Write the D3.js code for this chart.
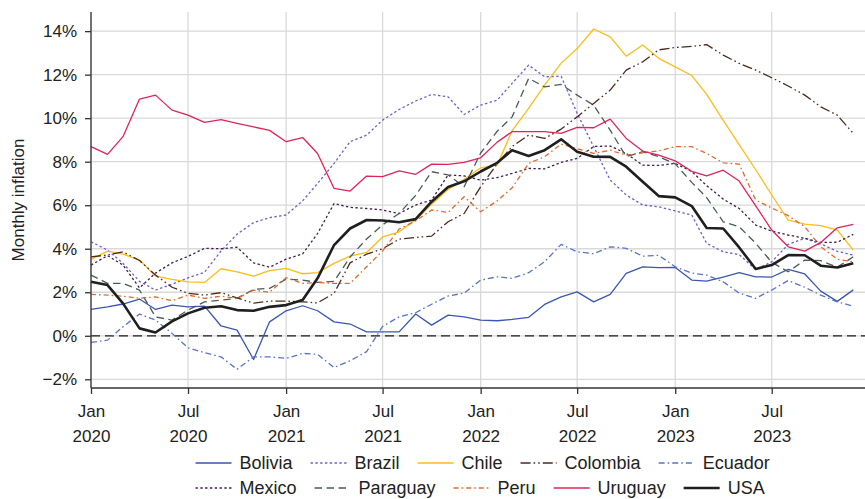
<!DOCTYPE html>
<html>
<head>
<meta charset="utf-8">
<script src="https://cdn.jsdelivr.net/npm/d3@7"></script>
<style>
  html, body { margin: 0; padding: 0; background: #fff; }
  svg { display: block; font-family: "Liberation Sans", Arial, Helvetica, sans-serif; }
</style>
</head>
<body>
<svg id="chart" width="865" height="499"></svg>
<script>
// Monthly observations, Jan 2020 – Dec 2023 (year-on-year inflation, %)
const startYear = 2020;
const nMonths = 48;

const countries = ["Bolivia", "Brazil", "Chile", "Colombia", "Ecuador",
                   "Mexico", "Paraguay", "Peru", "Uruguay", "USA"];

const bolivia = [1.21, 1.33, 1.46, 1.69, 1.21, 1.41, 1.33, 1.36, 0.45, 0.26, -1.09, 0.64,
                 1.15, 1.38, 1.15, 0.64, 0.54, 0.18, 0.18, 0.18, 1.00, 0.49, 0.95, 0.87,
                 0.72, 0.69, 0.75, 0.85, 1.44, 1.79, 2.02, 1.56, 1.90, 2.87, 3.17, 3.13,
                 3.14, 2.56, 2.51, 2.70, 2.90, 2.71, 2.70, 3.05, 2.84, 2.05, 1.58, 2.11];

const brazil = [4.32, 3.94, 3.33, 2.50, 2.10, 2.37, 2.66, 2.92, 3.90, 4.67, 5.20, 5.43,
                5.55, 6.20, 7.00, 7.92, 8.92, 9.22, 9.91, 10.40, 10.79, 11.09, 10.98, 10.17,
                10.60, 10.83, 11.60, 12.44, 11.90, 11.93, 10.22, 8.69, 7.16, 6.47, 6.01, 5.93,
                5.74, 5.55, 4.25, 3.86, 3.73, 3.04, 3.40, 4.20, 4.48, 4.22, 3.88, 3.71];

const chile = [3.51, 3.89, 3.75, 3.48, 2.74, 2.59, 2.48, 2.45, 3.08, 2.94, 2.74, 2.99,
               3.10, 2.85, 2.90, 3.33, 3.66, 3.83, 4.54, 4.78, 5.32, 6.04, 6.73, 7.19,
               7.72, 7.84, 9.43, 10.45, 11.52, 12.53, 13.20, 14.10, 13.74, 12.85, 13.36, 12.75,
               12.36, 11.96, 11.09, 9.90, 8.78, 7.63, 6.47, 5.32, 5.13, 5.06, 4.86, 3.94];

const colombia = [3.63, 3.71, 3.86, 3.46, 2.79, 2.23, 1.95, 1.87, 1.98, 1.74, 1.50, 1.59,
                  1.59, 1.56, 1.51, 1.95, 3.35, 3.75, 4.00, 4.44, 4.52, 4.58, 5.24, 5.62,
                  6.85, 7.90, 8.70, 9.22, 9.07, 9.50, 10.06, 10.68, 11.29, 12.21, 12.59, 13.14,
                  13.25, 13.30, 13.38, 12.90, 12.52, 12.21, 11.86, 11.48, 11.06, 10.52, 10.14, 9.30];

const ecuador = [-0.30, -0.20, 0.41, 1.00, 0.72, 0.11, -0.55, -0.78, -0.97, -1.54, -0.97, -0.97,
                 -1.04, -0.81, -0.85, -1.46, -1.15, -0.73, 0.43, 0.87, 1.06, 1.45, 1.83, 1.96,
                 2.56, 2.71, 2.64, 2.90, 3.40, 4.20, 3.86, 3.77, 4.09, 4.02, 3.66, 3.70,
                 3.17, 2.88, 2.79, 2.48, 1.96, 1.72, 2.10, 2.54, 2.23, 1.87, 1.56, 1.36];

const mexico = [3.25, 3.68, 3.25, 2.20, 2.88, 3.35, 3.65, 4.02, 4.00, 4.07, 3.35, 3.15,
                3.52, 3.76, 4.70, 6.08, 5.90, 5.85, 5.78, 5.62, 6.01, 6.24, 7.39, 7.35,
                7.15, 7.27, 7.46, 7.69, 7.67, 7.97, 8.15, 8.70, 8.72, 8.38, 7.84, 7.83,
                7.92, 7.55, 6.90, 6.28, 5.85, 5.09, 4.81, 4.63, 4.48, 4.29, 4.30, 4.66];

const paraguay = [2.79, 2.41, 2.41, 2.10, 0.87, 0.72, 1.18, 1.56, 1.64, 1.72, 2.13, 2.18,
                  2.60, 2.56, 2.45, 2.50, 3.62, 4.45, 5.10, 5.62, 6.45, 7.54, 7.39, 6.85,
                  8.40, 9.40, 10.06, 11.83, 11.44, 11.55, 11.06, 10.60, 9.45, 8.23, 8.46, 8.23,
                  7.90, 7.05, 6.35, 5.24, 5.01, 4.25, 3.38, 2.94, 3.48, 3.45, 3.15, 3.63];

const peru = [1.90, 1.87, 1.82, 1.72, 1.79, 1.61, 1.87, 1.72, 1.82, 1.72, 2.10, 2.00,
              2.67, 2.41, 2.45, 2.41, 2.41, 3.17, 3.90, 4.90, 5.28, 5.78, 5.67, 6.39,
              5.70, 6.20, 6.80, 7.92, 8.23, 8.81, 8.60, 8.38, 8.53, 8.30, 8.41, 8.50,
              8.69, 8.69, 8.38, 7.95, 7.89, 6.24, 5.87, 5.52, 5.01, 4.09, 3.52, 3.40];

const uruguay = [8.69, 8.34, 9.15, 10.88, 11.06, 10.37, 10.14, 9.81, 9.93, 9.76, 9.60, 9.44,
                 8.92, 9.11, 8.38, 6.77, 6.65, 7.34, 7.31, 7.58, 7.42, 7.89, 7.88, 7.97,
                 8.18, 8.90, 9.38, 9.38, 9.38, 9.30, 9.58, 9.56, 9.96, 9.07, 8.49, 8.30,
                 8.04, 7.56, 7.35, 7.61, 7.11, 5.97, 4.86, 4.09, 3.89, 4.29, 4.96, 5.12];

const usa = [2.48, 2.33, 1.49, 0.34, 0.15, 0.66, 1.03, 1.29, 1.36, 1.18, 1.15, 1.33,
             1.41, 1.64, 2.64, 4.17, 4.93, 5.32, 5.30, 5.22, 5.36, 6.16, 6.84, 7.10,
             7.55, 7.95, 8.53, 8.26, 8.53, 9.03, 8.46, 8.23, 8.22, 7.77, 7.08, 6.42,
             6.36, 5.96, 4.95, 4.93, 4.06, 3.07, 3.25, 3.71, 3.70, 3.22, 3.14, 3.33];

const seriesValues = [bolivia, brazil, chile, colombia, ecuador,
                      mexico, paraguay, peru, uruguay, usa];

// Line appearance per country
const lineColors = ["#3a56b1", "#6b61c9", "#fbbd18", "#4a2b1c", "#5a73c6",
                    "#3e1f4e", "#4b5b57", "#e2692b", "#e0245a", "#1f1f1f"];
const lineDashes = [null, "2.4,2.4", null, "10,3,1.6,3,1.6,3", "6,3,1.6,3",
                    "2.4,2.4", "7.5,4.5", "5,3,1.6,3", null, null];
const lineWidths = [1.3, 1.3, 1.3, 1.3, 1.3, 1.3, 1.3, 1.3, 1.3, 2.6];

const yTicks = [-2, 0, 2, 4, 6, 8, 10, 12, 14];
const xTickDates = [new Date(2020, 0, 1), new Date(2020, 6, 1), new Date(2021, 0, 1),
                    new Date(2021, 6, 1), new Date(2022, 0, 1), new Date(2022, 6, 1),
                    new Date(2023, 0, 1), new Date(2023, 6, 1)];
const monthNames = ["Jan", "Feb", "Mar", "Apr", "May", "Jun",
                    "Jul", "Aug", "Sep", "Oct", "Nov", "Dec"];
const legendRows = [["Bolivia", "Brazil", "Chile", "Colombia", "Ecuador"],
                    ["Mexico", "Paraguay", "Peru", "Uruguay", "USA"]];

// ---------------------------------------------------------------
const svg = d3.select("#chart");
const plot = { left: 91, right: 865, top: 12, bottom: 388 };

const dates = d3.range(nMonths).map(i => new Date(startYear, i, 1));

const x = d3.scaleTime()
  .domain([new Date(2020, 0, 1), new Date(2023, 11, 23)])
  .range([plot.left, plot.right]);

const y = d3.scaleLinear()
  .domain([-2.4, 14.88])
  .range([plot.bottom, plot.top]);

// Grid
const grid = svg.append("g").attr("class", "grid");
grid.selectAll("line.h").data(yTicks).join("line")
  .attr("class", "h")
  .attr("x1", plot.left).attr("x2", plot.right)
  .attr("y1", d => y(d)).attr("y2", d => y(d))
  .attr("stroke", "#d9d9d9").attr("stroke-width", 1.3);
grid.selectAll("line.v").data(xTickDates).join("line")
  .attr("class", "v")
  .attr("x1", d => x(d)).attr("x2", d => x(d))
  .attr("y1", plot.top).attr("y2", plot.bottom)
  .attr("stroke", "#d9d9d9").attr("stroke-width", 1.3);

// Zero reference line
svg.append("line")
  .attr("x1", plot.left).attr("x2", plot.right)
  .attr("y1", y(0)).attr("y2", y(0))
  .attr("stroke", "#1a1a1a").attr("stroke-width", 1.3)
  .attr("stroke-dasharray", "9,5");

// Series lines
const line = d3.line()
  .x((d, i) => x(dates[i]))
  .y(d => y(d));

const lines = svg.append("g").attr("class", "series");
countries.forEach((name, k) => {
  lines.append("path")
    .datum(seriesValues[k])
    .attr("d", line)
    .attr("fill", "none")
    .attr("stroke", lineColors[k])
    .attr("stroke-width", lineWidths[k])
    .attr("stroke-linejoin", "round")
    .attr("stroke-dasharray", lineDashes[k]);
});

// Axes
const yAxis = svg.append("g")
  .attr("transform", `translate(${plot.left},0)`)
  .call(d3.axisLeft(y).tickValues(yTicks).tickSize(6).tickSizeOuter(0).tickPadding(8)
    .tickFormat(d => (d < 0 ? "\u2212" : "") + Math.abs(d) + "%"));
yAxis.select(".domain").remove();
yAxis.selectAll(".tick line").attr("stroke", "#333").attr("stroke-width", 1.3);
yAxis.selectAll(".tick text")
  .attr("font-size", 17).attr("fill", "#222")
  .attr("font-family", "Liberation Sans, Arial, sans-serif");

svg.append("line")
  .attr("x1", plot.left).attr("x2", plot.left)
  .attr("y1", plot.top).attr("y2", plot.bottom)
  .attr("stroke", "#333").attr("stroke-width", 1.3);

const xAxis = svg.append("g")
  .attr("transform", `translate(0,${plot.bottom})`)
  .call(d3.axisBottom(x).tickValues(xTickDates).tickSize(6).tickSizeOuter(0)
    .tickFormat(() => ""));
xAxis.select(".domain").remove();
xAxis.selectAll(".tick line").attr("stroke", "#333").attr("stroke-width", 1.3);
xAxis.selectAll(".tick text").remove();
xAxis.selectAll(".tick").append("text")
  .attr("text-anchor", "middle")
  .attr("font-size", 17).attr("fill", "#222")
  .attr("font-family", "Liberation Sans, Arial, sans-serif")
  .each(function (d) {
    const t = d3.select(this);
    t.append("tspan").attr("x", 0).attr("y", 29).text(monthNames[d.getMonth()]);
    t.append("tspan").attr("x", 0).attr("y", 54).text(d.getFullYear());
  });

svg.append("line")
  .attr("x1", plot.left).attr("x2", plot.right)
  .attr("y1", plot.bottom).attr("y2", plot.bottom)
  .attr("stroke", "#333").attr("stroke-width", 1.3);

// Y axis title
svg.append("text")
  .attr("transform", `translate(24,${(plot.top + plot.bottom) / 2}) rotate(-90)`)
  .attr("text-anchor", "middle")
  .attr("font-size", 17).attr("fill", "#222")
  .text("Monthly inflation");

// Legend
const legend = svg.append("g").attr("class", "legend");
const sampleLen = 36, sampleGap = 8, itemGap = 18;
const rowY = [463, 488];
legendRows.forEach((row, r) => {
  let cx = 195.5;
  row.forEach(name => {
    const k = countries.indexOf(name);
    legend.append("line")
      .attr("x1", cx).attr("x2", cx + sampleLen)
      .attr("y1", rowY[r]).attr("y2", rowY[r])
      .attr("stroke", lineColors[k])
      .attr("stroke-width", lineWidths[k])
      .attr("stroke-dasharray", lineDashes[k]);
    const txt = legend.append("text")
      .attr("x", cx + sampleLen + sampleGap)
      .attr("y", rowY[r] + 6.2)
      .attr("font-size", 18).attr("fill", "#222")
      .text(name);
    cx += sampleLen + sampleGap + txt.node().getComputedTextLength() + itemGap;
  });
});
</script>
</body>
</html>
